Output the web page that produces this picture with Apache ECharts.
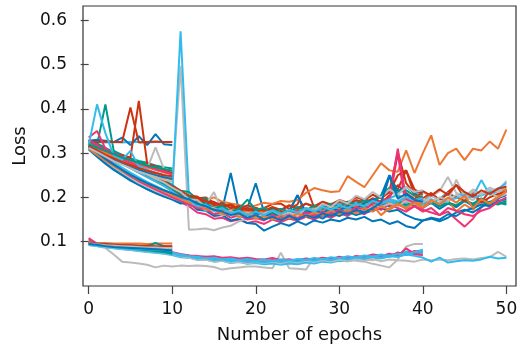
<!DOCTYPE html>
<html>
<head>
<meta charset="utf-8">
<script src="https://cdn.jsdelivr.net/npm/echarts@6/dist/echarts.min.js"></script>
<style>
  html, body { margin: 0; padding: 0; background: #fff; }
  #chart { width: 522px; height: 351px; }
</style>
</head>
<body>
<div id="chart"></div>
<script>
// palette (Paul Tol vibrant)
const BLUE = '#0077BB', CYAN = '#33BBEE', TEAL = '#009988', ORANGE = '#EE7733',
      RED = '#CC3311', MAGENTA = '#EE3377', GREY = '#BBBBBB';

const xTicks = [0, 10, 20, 30, 40, 50];
const yTicks = [0.1, 0.2, 0.3, 0.4, 0.5, 0.6];

// upper runs, epochs 0..50
const upperLong = [
  [0.325,0.315,0.305,0.295,0.283,0.272,0.262,0.250,0.240,0.228,0.215,0.200,0.192,0.178,0.182,0.170,0.174,0.255,0.168,0.176,0.232,0.166,0.172,0.160,0.170,0.205,0.162,0.172,0.158,0.170,0.164,0.176,0.168,0.180,0.172,0.186,0.250,0.198,0.178,0.190,0.176,0.188,0.174,0.186,0.178,0.192,0.180,0.194,0.182,0.190,0.186],
  [0.322,0.312,0.300,0.292,0.282,0.270,0.262,0.252,0.243,0.233,0.222,0.205,0.202,0.198,0.200,0.188,0.176,0.184,0.172,0.180,0.166,0.176,0.185,0.186,0.174,0.184,0.228,0.176,0.184,0.172,0.188,0.178,0.192,0.182,0.196,0.186,0.205,0.218,0.261,0.205,0.190,0.206,0.195,0.212,0.228,0.198,0.212,0.190,0.214,0.200,0.218],
  [0.318,0.305,0.295,0.285,0.276,0.266,0.256,0.246,0.236,0.226,0.214,0.205,0.198,0.193,0.194,0.200,0.190,0.186,0.183,0.178,0.182,0.188,0.185,0.192,0.190,0.194,0.210,0.221,0.216,0.212,0.214,0.248,0.235,0.223,0.250,0.277,0.261,0.258,0.306,0.255,0.300,0.340,0.273,0.300,0.310,0.284,0.310,0.306,0.326,0.310,0.353],
  [0.318,0.310,0.298,0.290,0.280,0.270,0.262,0.252,0.244,0.235,0.222,0.210,0.196,0.192,0.180,0.178,0.168,0.172,0.162,0.174,0.166,0.170,0.160,0.172,0.166,0.178,0.170,0.164,0.176,0.170,0.182,0.174,0.186,0.178,0.190,0.184,0.196,0.186,0.192,0.180,0.194,0.186,0.198,0.188,0.182,0.194,0.186,0.198,0.188,0.184,0.192],
  [0.318,0.300,0.284,0.270,0.258,0.246,0.236,0.226,0.216,0.208,0.200,0.190,0.180,0.166,0.162,0.152,0.154,0.146,0.150,0.142,0.146,0.140,0.150,0.144,0.152,0.148,0.156,0.150,0.160,0.154,0.164,0.158,0.170,0.162,0.174,0.180,0.190,0.300,0.172,0.180,0.168,0.176,0.160,0.168,0.150,0.134,0.152,0.178,0.188,0.196,0.215],
  [0.312,0.295,0.280,0.266,0.252,0.240,0.229,0.219,0.210,0.202,0.195,0.186,0.188,0.172,0.170,0.158,0.160,0.148,0.152,0.142,0.140,0.125,0.134,0.142,0.136,0.146,0.138,0.148,0.143,0.150,0.146,0.154,0.150,0.156,0.146,0.150,0.140,0.146,0.135,0.131,0.148,0.152,0.146,0.154,0.166,0.172,0.166,0.178,0.190,0.198,0.205],
  [0.320,0.310,0.302,0.295,0.285,0.275,0.265,0.256,0.246,0.238,0.225,0.497,0.127,0.128,0.130,0.126,0.132,0.136,0.146,0.152,0.150,0.160,0.154,0.166,0.158,0.170,0.162,0.176,0.170,0.182,0.178,0.188,0.184,0.196,0.190,0.204,0.212,0.206,0.198,0.204,0.212,0.202,0.214,0.246,0.210,0.202,0.218,0.208,0.222,0.214,0.237],
  [0.312,0.305,0.298,0.300,0.290,0.280,0.270,0.260,0.250,0.240,0.210,0.575,0.200,0.186,0.190,0.176,0.182,0.168,0.174,0.180,0.168,0.176,0.162,0.174,0.166,0.178,0.170,0.176,0.182,0.172,0.186,0.178,0.190,0.182,0.194,0.186,0.198,0.206,0.188,0.196,0.190,0.204,0.196,0.210,0.200,0.212,0.202,0.239,0.206,0.214,0.218],
  [0.320,0.304,0.290,0.276,0.264,0.252,0.242,0.232,0.222,0.214,0.205,0.196,0.200,0.186,0.182,0.170,0.176,0.162,0.168,0.154,0.160,0.152,0.164,0.156,0.166,0.158,0.170,0.162,0.174,0.166,0.178,0.170,0.180,0.172,0.184,0.176,0.190,0.182,0.196,0.186,0.176,0.190,0.180,0.194,0.168,0.184,0.172,0.194,0.186,0.204,0.220],
  [0.322,0.315,0.306,0.296,0.286,0.277,0.268,0.258,0.249,0.240,0.228,0.215,0.212,0.196,0.198,0.184,0.188,0.176,0.180,0.170,0.174,0.166,0.176,0.168,0.160,0.170,0.164,0.174,0.168,0.176,0.170,0.180,0.174,0.184,0.176,0.188,0.180,0.190,0.182,0.194,0.184,0.190,0.180,0.188,0.182,0.192,0.184,0.190,0.182,0.188,0.184],
  [0.325,0.318,0.310,0.300,0.290,0.278,0.268,0.258,0.246,0.236,0.225,0.215,0.204,0.202,0.190,0.188,0.178,0.182,0.170,0.176,0.168,0.172,0.160,0.170,0.164,0.172,0.168,0.178,0.172,0.184,0.176,0.190,0.184,0.196,0.188,0.204,0.214,0.302,0.232,0.208,0.198,0.210,0.194,0.208,0.200,0.192,0.206,0.188,0.200,0.208,0.212],
  [0.318,0.310,0.298,0.288,0.278,0.270,0.262,0.250,0.240,0.230,0.218,0.210,0.198,0.194,0.184,0.212,0.168,0.170,0.158,0.164,0.156,0.168,0.160,0.154,0.166,0.158,0.172,0.176,0.164,0.178,0.172,0.186,0.180,0.188,0.176,0.190,0.196,0.192,0.204,0.188,0.186,0.204,0.192,0.190,0.240,0.202,0.194,0.210,0.212,0.200,0.208],
  [0.308,0.292,0.276,0.262,0.250,0.238,0.228,0.218,0.210,0.203,0.197,0.190,0.186,0.184,0.172,0.176,0.164,0.168,0.158,0.164,0.154,0.160,0.150,0.158,0.152,0.162,0.156,0.160,0.152,0.164,0.158,0.168,0.160,0.166,0.170,0.176,0.168,0.172,0.160,0.152,0.148,0.154,0.150,0.162,0.158,0.170,0.176,0.184,0.180,0.192,0.196],
  [0.322,0.306,0.292,0.279,0.267,0.256,0.245,0.235,0.226,0.217,0.209,0.200,0.182,0.182,0.170,0.172,0.160,0.166,0.158,0.170,0.160,0.164,0.154,0.162,0.168,0.160,0.168,0.164,0.172,0.166,0.176,0.170,0.178,0.174,0.182,0.186,0.192,0.184,0.178,0.188,0.184,0.196,0.186,0.194,0.198,0.206,0.200,0.204,0.212,0.220,0.232],
  [0.322,0.312,0.300,0.290,0.280,0.270,0.260,0.250,0.238,0.228,0.216,0.202,0.190,0.184,0.176,0.170,0.164,0.166,0.158,0.162,0.156,0.162,0.166,0.158,0.164,0.170,0.162,0.168,0.176,0.166,0.172,0.180,0.174,0.168,0.178,0.172,0.184,0.176,0.168,0.180,0.172,0.166,0.160,0.176,0.170,0.162,0.158,0.170,0.176,0.190,0.200],
  [0.315,0.298,0.282,0.268,0.256,0.244,0.233,0.224,0.215,0.207,0.199,0.192,0.190,0.180,0.172,0.168,0.160,0.164,0.154,0.160,0.152,0.158,0.150,0.156,0.160,0.154,0.162,0.158,0.166,0.160,0.170,0.164,0.176,0.170,0.182,0.178,0.186,0.180,0.192,0.186,0.196,0.190,0.200,0.194,0.206,0.198,0.214,0.206,0.220,0.212,0.226],
  [0.320,0.310,0.302,0.292,0.282,0.272,0.262,0.252,0.242,0.232,0.220,0.212,0.196,0.198,0.186,0.190,0.180,0.184,0.174,0.182,0.176,0.168,0.178,0.170,0.182,0.174,0.186,0.178,0.190,0.182,0.192,0.184,0.194,0.188,0.198,0.190,0.202,0.228,0.210,0.196,0.214,0.204,0.218,0.206,0.228,0.212,0.202,0.216,0.208,0.220,0.224],
  [0.318,0.308,0.298,0.288,0.278,0.268,0.258,0.248,0.238,0.228,0.216,0.206,0.192,0.190,0.180,0.178,0.170,0.174,0.166,0.170,0.162,0.170,0.164,0.172,0.168,0.176,0.170,0.180,0.172,0.184,0.176,0.186,0.178,0.190,0.182,0.160,0.176,0.186,0.174,0.190,0.178,0.194,0.184,0.200,0.188,0.204,0.176,0.196,0.186,0.200,0.214]
];
const upperLongColors = [BLUE, RED, ORANGE, TEAL, MAGENTA, BLUE, GREY, CYAN, ORANGE, TEAL, RED, GREY, BLUE, CYAN, MAGENTA, GREY, RED, ORANGE];

// upper runs, epochs 0..40
const upperMid = [
  [0.322,0.312,0.302,0.292,0.280,0.270,0.260,0.250,0.240,0.230,0.218,0.204,0.198,0.184,0.186,0.172,0.176,0.166,0.170,0.160,0.166,0.158,0.164,0.158,0.168,0.205,0.166,0.172,0.164,0.176,0.170,0.182,0.174,0.188,0.194,0.204,0.250,0.214,0.224,0.210,0.214],
  [0.318,0.308,0.298,0.288,0.278,0.268,0.258,0.248,0.238,0.228,0.216,0.204,0.202,0.192,0.194,0.182,0.186,0.176,0.180,0.170,0.176,0.170,0.178,0.172,0.182,0.176,0.186,0.180,0.190,0.184,0.194,0.188,0.200,0.194,0.206,0.198,0.212,0.250,0.261,0.218,0.206],
  [0.320,0.310,0.300,0.290,0.280,0.270,0.260,0.250,0.240,0.230,0.220,0.208,0.200,0.188,0.186,0.176,0.180,0.168,0.174,0.195,0.172,0.176,0.164,0.174,0.168,0.178,0.170,0.182,0.174,0.186,0.178,0.190,0.184,0.194,0.188,0.204,0.222,0.212,0.216,0.204,0.202],
  [0.330,0.308,0.290,0.274,0.260,0.248,0.237,0.227,0.218,0.209,0.200,0.192,0.184,0.176,0.174,0.162,0.166,0.154,0.160,0.150,0.154,0.148,0.160,0.152,0.160,0.154,0.166,0.158,0.168,0.160,0.172,0.164,0.178,0.172,0.186,0.192,0.198,0.310,0.196,0.188,0.198],
  [0.318,0.310,0.300,0.290,0.280,0.270,0.262,0.252,0.242,0.234,0.222,0.212,0.196,0.194,0.178,0.176,0.166,0.170,0.158,0.166,0.154,0.164,0.170,0.160,0.166,0.158,0.176,0.170,0.186,0.178,0.194,0.186,0.204,0.196,0.212,0.200,0.218,0.206,0.224,0.212,0.216],
  [0.310,0.296,0.283,0.271,0.260,0.250,0.240,0.231,0.222,0.214,0.206,0.197,0.188,0.186,0.172,0.174,0.162,0.166,0.156,0.162,0.152,0.158,0.150,0.160,0.152,0.164,0.156,0.166,0.160,0.170,0.162,0.172,0.164,0.176,0.168,0.180,0.172,0.184,0.176,0.188,0.186],
  [0.316,0.306,0.296,0.286,0.276,0.266,0.256,0.246,0.236,0.226,0.214,0.200,0.194,0.180,0.184,0.170,0.176,0.164,0.170,0.160,0.168,0.160,0.170,0.162,0.172,0.166,0.176,0.168,0.178,0.172,0.182,0.176,0.186,0.180,0.192,0.186,0.196,0.190,0.200,0.194,0.198],
  [0.316,0.301,0.287,0.274,0.262,0.251,0.241,0.232,0.224,0.216,0.209,0.201,0.196,0.186,0.180,0.172,0.168,0.160,0.164,0.154,0.160,0.150,0.156,0.148,0.158,0.150,0.160,0.154,0.164,0.158,0.168,0.162,0.172,0.166,0.176,0.188,0.248,0.198,0.208,0.194,0.190]
];
const upperMidColors = [BLUE, RED, TEAL, MAGENTA, GREY, ORANGE, CYAN, BLUE];

// upper runs, epochs 0..10
const upperShort = [
  [0.330,0.322,0.312,0.302,0.295,0.288,0.282,0.278,0.272,0.268,0.265],
  [0.325,0.318,0.410,0.305,0.296,0.288,0.280,0.274,0.268,0.263,0.260],
  [0.325,0.325,0.324,0.325,0.324,0.325,0.325,0.324,0.325,0.325,0.325],
  [0.328,0.330,0.328,0.325,0.335,0.318,0.338,0.318,0.343,0.320,0.318],
  [0.325,0.325,0.326,0.325,0.325,0.403,0.324,0.325,0.326,0.325,0.325],
  [0.318,0.310,0.300,0.295,0.295,0.290,0.418,0.277,0.270,0.262,0.255],
  [0.320,0.310,0.300,0.290,0.282,0.275,0.270,0.265,0.313,0.265,0.260],
  [0.320,0.312,0.303,0.294,0.287,0.280,0.274,0.268,0.262,0.256,0.252],
  [0.335,0.350,0.310,0.300,0.292,0.284,0.277,0.270,0.264,0.258,0.252],
  [0.330,0.318,0.306,0.296,0.286,0.278,0.270,0.262,0.256,0.250,0.245],
  [0.322,0.310,0.300,0.290,0.280,0.272,0.265,0.258,0.250,0.245,0.240],
  [0.315,0.305,0.294,0.284,0.276,0.268,0.262,0.256,0.250,0.246,0.242],
  [0.318,0.410,0.345,0.295,0.285,0.305,0.270,0.262,0.255,0.250,0.246],
  [0.320,0.312,0.305,0.298,0.290,0.284,0.278,0.272,0.268,0.264,0.260],
  [0.315,0.306,0.296,0.288,0.280,0.273,0.266,0.260,0.255,0.250,0.248],
  [0.312,0.302,0.292,0.282,0.274,0.266,0.258,0.252,0.246,0.240,0.236]
];
const upperShortColors = [TEAL, TEAL, CYAN, BLUE, RED, RED, GREY, ORANGE, MAGENTA, MAGENTA, ORANGE, BLUE, CYAN, TEAL, RED, GREY];

// lower runs, epochs 0..10
const lowerShort = [
  [0.100,0.097,0.097,0.096,0.096,0.096,0.096,0.095,0.096,0.096,0.096],
  [0.098,0.096,0.094,0.093,0.092,0.092,0.091,0.090,0.097,0.090,0.089],
  [0.097,0.094,0.092,0.090,0.088,0.086,0.084,0.082,0.080,0.078,0.075],
  [0.096,0.093,0.091,0.089,0.087,0.085,0.083,0.081,0.079,0.077,0.073],
  [0.108,0.095,0.093,0.092,0.090,0.089,0.088,0.087,0.086,0.085,0.084],
  [0.095,0.092,0.090,0.088,0.086,0.085,0.084,0.083,0.082,0.081,0.080],
  [0.097,0.095,0.094,0.093,0.092,0.092,0.091,0.091,0.090,0.090,0.090],
  [0.096,0.094,0.092,0.091,0.090,0.089,0.088,0.087,0.087,0.086,0.086],
  [0.095,0.093,0.090,0.088,0.087,0.086,0.085,0.084,0.083,0.082,0.080]
];
const lowerShortColors = [ORANGE, TEAL, BLUE, TEAL, MAGENTA, CYAN, RED, GREY, BLUE];

// lower runs, epochs 0..40
const lowerMid = [
  [0.092,0.090,0.086,0.071,0.055,0.053,0.051,0.048,0.042,0.046,0.044,0.046,0.045,0.046,0.045,0.043,0.037,0.040,0.042,0.044,0.044,0.042,0.040,0.075,0.040,0.039,0.037,0.064,0.055,0.058,0.060,0.060,0.057,0.055,0.050,0.046,0.042,0.060,0.089,0.095,0.095],
  [0.094,0.091,0.089,0.087,0.085,0.083,0.081,0.079,0.077,0.075,0.072,0.066,0.064,0.060,0.061,0.057,0.059,0.055,0.057,0.053,0.056,0.052,0.055,0.053,0.057,0.054,0.058,0.055,0.059,0.056,0.061,0.058,0.063,0.060,0.058,0.064,0.066,0.070,0.074,0.070,0.068],
  [0.095,0.092,0.090,0.088,0.086,0.084,0.082,0.080,0.078,0.076,0.074,0.070,0.069,0.065,0.066,0.061,0.063,0.059,0.061,0.057,0.059,0.055,0.058,0.054,0.058,0.056,0.060,0.057,0.062,0.059,0.064,0.061,0.066,0.063,0.068,0.065,0.071,0.068,0.075,0.074,0.078],
  [0.094,0.090,0.088,0.086,0.084,0.082,0.080,0.078,0.076,0.074,0.072,0.067,0.066,0.061,0.062,0.057,0.058,0.054,0.056,0.052,0.054,0.050,0.053,0.050,0.054,0.052,0.056,0.053,0.058,0.055,0.061,0.058,0.063,0.061,0.066,0.064,0.070,0.072,0.078,0.077,0.082],
  [0.105,0.095,0.092,0.090,0.088,0.086,0.084,0.082,0.080,0.078,0.076,0.072,0.069,0.068,0.066,0.067,0.064,0.065,0.062,0.064,0.061,0.060,0.063,0.059,0.060,0.058,0.062,0.060,0.064,0.061,0.066,0.062,0.067,0.066,0.071,0.069,0.067,0.076,0.070,0.079,0.076],
  [0.093,0.090,0.088,0.085,0.083,0.081,0.079,0.077,0.075,0.073,0.070,0.065,0.064,0.059,0.060,0.055,0.057,0.052,0.054,0.050,0.052,0.049,0.051,0.048,0.051,0.049,0.053,0.051,0.055,0.053,0.057,0.056,0.060,0.059,0.064,0.062,0.067,0.066,0.072,0.071,0.075],
  [0.100,0.094,0.091,0.089,0.087,0.085,0.083,0.081,0.079,0.077,0.075,0.069,0.068,0.062,0.063,0.058,0.060,0.056,0.058,0.055,0.057,0.054,0.058,0.056,0.060,0.056,0.059,0.058,0.062,0.060,0.064,0.062,0.067,0.064,0.068,0.067,0.073,0.068,0.085,0.072,0.070],
  [0.096,0.093,0.091,0.089,0.087,0.085,0.083,0.081,0.079,0.077,0.075,0.071,0.067,0.066,0.062,0.064,0.060,0.062,0.058,0.061,0.057,0.060,0.056,0.060,0.057,0.061,0.059,0.063,0.060,0.065,0.062,0.067,0.064,0.069,0.066,0.071,0.068,0.073,0.071,0.076,0.080]
];
const lowerMidColors = [GREY, GREY, CYAN, CYAN, MAGENTA, CYAN, MAGENTA, CYAN];

// lower runs, epochs 0..50
const lowerLong = [
  [0.093,0.090,0.088,0.086,0.084,0.082,0.080,0.078,0.076,0.074,0.072,0.067,0.064,0.059,0.060,0.055,0.057,0.053,0.055,0.051,0.054,0.052,0.055,0.051,0.056,0.053,0.057,0.054,0.058,0.055,0.059,0.056,0.060,0.057,0.061,0.056,0.060,0.058,0.057,0.055,0.060,0.058,0.060,0.058,0.061,0.062,0.060,0.063,0.065,0.077,0.066],
  [0.094,0.091,0.089,0.087,0.085,0.083,0.081,0.079,0.077,0.075,0.073,0.068,0.067,0.062,0.063,0.058,0.060,0.056,0.058,0.054,0.056,0.053,0.057,0.054,0.058,0.055,0.059,0.057,0.061,0.058,0.063,0.060,0.065,0.062,0.067,0.064,0.069,0.066,0.071,0.068,0.064,0.055,0.064,0.053,0.056,0.058,0.057,0.060,0.066,0.062,0.064]
];
const lowerLongColors = [GREY, CYAN];

function makeSeries(runs, colors) {
  return runs.map((vals, k) => ({
    type: 'line',
    data: vals.map((v, i) => [i, v]),
    showSymbol: false,
    silent: true,
    lineStyle: { color: colors[k], width: 2 },
    itemStyle: { color: colors[k] }
  }));
}

const series = [].concat(
  makeSeries(lowerMid, lowerMidColors),
  makeSeries(lowerLong, lowerLongColors),
  makeSeries(lowerShort, lowerShortColors),
  makeSeries(upperLong, upperLongColors),
  makeSeries(upperMid, upperMidColors),
  makeSeries(upperShort, upperShortColors)
);

const chart = echarts.init(document.getElementById('chart'), null, { renderer: 'canvas' });
const font = 'DejaVu Sans';
chart.setOption({
  animation: false,
  backgroundColor: '#fff',
  grid: { left: 83, right: 6, top: 6, bottom: 65, show: true, borderColor: '#333', borderWidth: 1.2, backgroundColor: 'transparent' },
  xAxis: {
    type: 'value', min: -0.68, max: 51.15, offset: 2,
    name: 'Number of epochs', nameLocation: 'middle', nameGap: 38,
    nameTextStyle: { fontFamily: font, fontSize: 18, color: '#111' },
    axisLine: { show: false },
    axisTick: { show: true, length: 8, inside: false, customValues: xTicks, lineStyle: { color: '#444', width: 1.2 } },
    axisLabel: { customValues: xTicks, fontFamily: font, fontSize: 17, color: '#111', margin: 13 },
    splitLine: { show: false }
  },
  yAxis: {
    type: 'value', min: 0, max: 0.632, offset: 1,
    name: 'Loss', nameLocation: 'middle', nameGap: 45,
    nameTextStyle: { fontFamily: font, fontSize: 18, color: '#111' },
    axisLine: { show: false },
    axisTick: { show: true, length: 8, customValues: yTicks, lineStyle: { color: '#444', width: 1.2 } },
    axisLabel: { customValues: yTicks, fontFamily: font, fontSize: 17, color: '#111', margin: 15, formatter: v => v.toFixed(1) },
    splitLine: { show: false }
  },
  series: series
});
</script>
</body>
</html>
